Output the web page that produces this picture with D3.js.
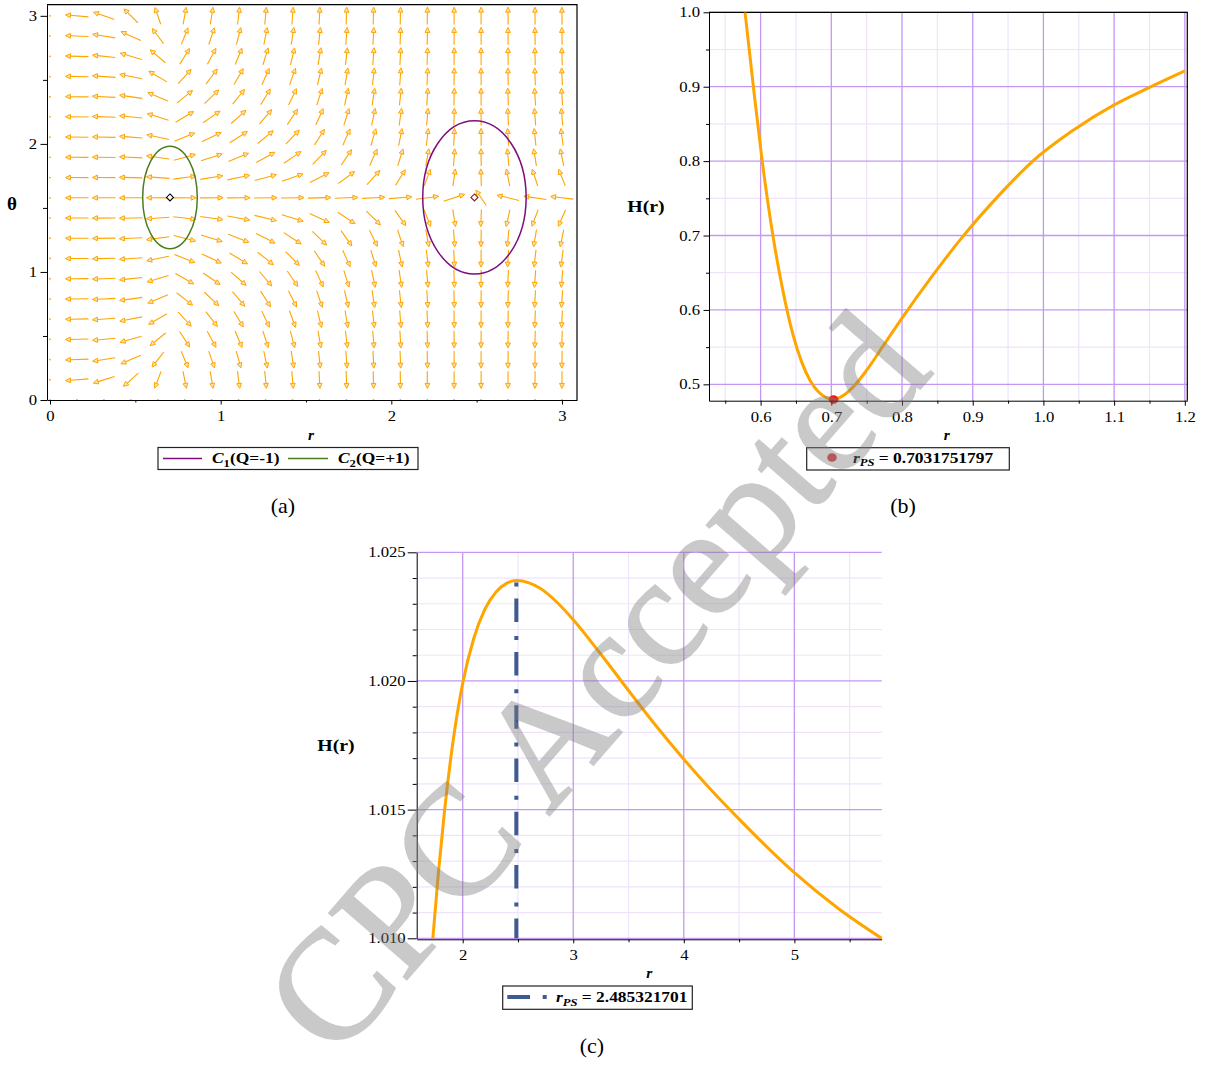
<!DOCTYPE html>
<html>
<head>
<meta charset="utf-8">
<script src="https://cdn.jsdelivr.net/npm/d3@7"></script>
<style>
  body { margin: 0; background: #fff; }
  svg text { font-family: "Liberation Serif", "Times New Roman", serif; }
</style>
</head>
<body>
<svg id="fig" width="1206" height="1066"></svg>
<script>
// ---------- (a) vector field ----------
// grid of the field plot (20 x 20 points)
const fieldR     = [0, 0.158, 0.316, 0.474, 0.632, 0.789, 0.947, 1.105, 1.263, 1.421, 1.579, 1.737, 1.895, 2.053, 2.211, 2.368, 2.526, 2.684, 2.842, 3.0];
const fieldTheta = [0, 0.158, 0.316, 0.474, 0.632, 0.789, 0.947, 1.105, 1.263, 1.421, 1.579, 1.737, 1.895, 2.053, 2.211, 2.368, 2.526, 2.684, 2.842, 3.0];
// radial weight per column and angular weight per row (null = no arrow, only a dot)
const radialWeight  = [null, -60, -15, -5.3, -1.8, 0.95, 0.8, 0.62, 0.47, 0.37, 0.25, 0.17, 0.115, 0.08, 0.045, 0.018, -0.004, -0.025, -0.042, -0.05];
const angularWeight = [null, -6.28, -3.06, -1.95, -1.37, -0.99, -0.72, -0.50, -0.32, -0.15, 0.008, 0.17, 0.34, 0.52, 0.74, 1.02, 1.41, 2.04, 3.19, 7.02];
// zero points and the contours round them
const contourNames = ['C1', 'C2'];
const contourCharge = ['(Q=-1)', '(Q=+1)'];
const zeroR = [2.487, 0.703];
const zeroTheta = [1.582, 1.582];
const contourRx = [0.303, 0.16];
const contourRy = [0.598, 0.40];
const aTicks = [0, 1, 2, 3];
const aMinor = [0.5, 1.5, 2.5];

// ---------- (b) H(r), minimum ----------
const bR = [0.578, 0.590, 0.602, 0.618, 0.632, 0.645, 0.658, 0.670, 0.682, 0.693, 0.703, 0.715, 0.730, 0.750, 0.775, 0.800, 0.840, 0.885, 0.940, 0.985, 1.040, 1.100, 1.150, 1.200];
const bH = [1.000, 0.898, 0.802, 0.6964, 0.6236, 0.5695, 0.5302, 0.5052, 0.4896, 0.4821, 0.4795, 0.4838, 0.4955, 0.519, 0.554, 0.589, 0.642, 0.6975, 0.757, 0.800, 0.840, 0.8755, 0.899, 0.9212];
const bRps = 0.7031751797;
const bHps = 0.4795;
const bTicksX = [0.6, 0.7, 0.8, 0.9, 1.0, 1.1, 1.2];
const bMinorX = [0.55, 0.65, 0.75, 0.85, 0.95, 1.05, 1.15];
const bTicksY = [0.5, 0.6, 0.7, 0.8, 0.9, 1.0];
const bMinorY = [0.55, 0.65, 0.75, 0.85, 0.95];

// ---------- (c) H(r), maximum ----------
const cR = [1.730, 1.780, 1.835, 1.900, 2.000, 2.100, 2.200, 2.300, 2.400, 2.485, 2.600, 2.700, 2.850, 3.000, 3.250, 3.500, 3.750, 4.000, 4.250, 4.500, 5.000, 5.400, 5.790];
const cH = [1.0100, 1.01253, 1.01492, 1.01726, 1.01991, 1.02165, 1.02278, 1.02345, 1.02380, 1.02390, 1.02381, 1.02360, 1.02307, 1.02238, 1.02104, 1.01963, 1.01825, 1.01696, 1.01575, 1.01463, 1.01255, 1.01115, 1.0100];
const cRps = 2.485321701;
const cHps = 1.0239;
const cTicksX = [2, 3, 4, 5];
const cMinorX = [2.5, 3.5, 4.5, 5.5];
const cTicksY = [1.010, 1.015, 1.020, 1.025];
const cMinorY = [1.011, 1.012, 1.013, 1.014, 1.016, 1.017, 1.018, 1.019, 1.021, 1.022, 1.023, 1.024];

const ORANGE = '#ffa500';
const GRID = '#c497f2';
const GRID_MINOR = '#efe3fb';

const svg = d3.select('#fig');

// the exported fonts are a bit wider than Times, stretch texts sideways
function widen(sel, k) {
  sel.each(function () {
    const w = this.getComputedTextLength();
    if (w > 0) d3.select(this).attr('textLength', w * k).attr('lengthAdjust', 'spacingAndGlyphs');
  });
}

function styleAxis(g) {
  g.attr('font-size', 14.5);
  g.selectAll('text').attr('fill', '#000');
  g.selectAll('line').attr('stroke', '#000');
  g.select('.domain').attr('stroke', '#000');
  widen(g.selectAll('text'), 1.15);
}

function minorTicks(g, axis) {
  g.call(axis.tickFormat('')).call(s => s.select('.domain').remove());
  g.selectAll('line').attr('stroke', '#000');
}

function legendLabel(g, x, y, name, sub, rest) {
  const t = g.append('text').attr('x', x).attr('y', y)
    .attr('font-size', 14.5).attr('font-weight', 'bold');
  t.append('tspan').attr('font-style', 'italic').text(name);
  t.append('tspan').attr('font-style', sub === 'PS' ? 'italic' : 'normal')
    .attr('font-size', 10.5).attr('dy', 3.5).text(sub);
  t.append('tspan').attr('dy', -3.5).text(rest);
  widen(t, 1.2);
  return t;
}

function grid(g, xs, ys, xv, yv, color, w) {
  xv.forEach(v => g.append('line').attr('x1', xs(v)).attr('x2', xs(v))
    .attr('y1', ys.range()[0]).attr('y2', ys.range()[1]).attr('stroke', color).attr('stroke-width', w));
  yv.forEach(v => g.append('line').attr('y1', ys(v)).attr('y2', ys(v))
    .attr('x1', xs.range()[0]).attr('x2', xs.range()[1]).attr('stroke', color).attr('stroke-width', w));
}

// =========================== (a) ===========================
const xA = d3.scaleLinear().domain([-0.0176, 3.088]).range([47, 577]);
const yA = d3.scaleLinear().domain([0, 3.087]).range([400, 4.7]);
const gA = svg.append('g');

gA.append('path').attr('d', 'M47,4.7H577V400')
  .attr('fill', 'none').attr('stroke', '#000').attr('stroke-width', 1.2);

const arrowLen = 0.135;
const field = [];
fieldR.forEach((r, i) => fieldTheta.forEach((t, j) => {
  field.push({ r, t, a: radialWeight[i], b: angularWeight[j] });
}));

const arrowG = gA.append('g');
field.forEach(d => {
  if (d.a === null || d.b === null) {
    arrowG.append('circle').attr('cx', xA(d.r)).attr('cy', yA(d.t)).attr('r', 0.9).attr('fill', ORANGE);
    return;
  }
  const n = Math.hypot(d.a, d.b);
  const dr = d.a / n * arrowLen / 2, dt = d.b / n * arrowLen / 2;
  const x1 = xA(d.r - dr), y1 = yA(d.t - dt), x2 = xA(d.r + dr), y2 = yA(d.t + dt);
  const L = Math.hypot(x2 - x1, y2 - y1);
  const ux = (x2 - x1) / L, uy = (y2 - y1) / L;
  const bx = x2 - 5 * ux, by = y2 - 5 * uy;
  arrowG.append('line').attr('x1', x1).attr('y1', y1).attr('x2', bx).attr('y2', by)
    .attr('stroke', ORANGE).attr('stroke-width', 1.1);
  arrowG.append('path')
    .attr('d', `M${x2},${y2}L${bx - 2.4 * uy},${by + 2.4 * ux}L${bx + 2.4 * uy},${by - 2.4 * ux}Z`)
    .attr('fill', '#ffe2a8').attr('stroke', ORANGE).attr('stroke-width', 1);
});

const contourColors = ['#7d0f7d', '#4c7e1c'];
const markerColors = ['#8b1a1a', '#000'];
zeroR.forEach((r, i) => {
  gA.append('ellipse')
    .attr('cx', xA(r)).attr('cy', yA(zeroTheta[i]))
    .attr('rx', xA(r + contourRx[i]) - xA(r))
    .attr('ry', yA(zeroTheta[i]) - yA(zeroTheta[i] + contourRy[i]))
    .attr('fill', 'none').attr('stroke', contourColors[i]).attr('stroke-width', 1.5);
  const cx = xA(r), cy = yA(zeroTheta[i]);
  gA.append('path').attr('d', `M${cx},${cy - 3.5}L${cx + 3.5},${cy}L${cx},${cy + 3.5}L${cx - 3.5},${cy}Z`)
    .attr('fill', '#fff').attr('stroke', markerColors[i]).attr('stroke-width', 1.1);
});

gA.append('g').attr('transform', 'translate(0,400)')
  .call(d3.axisBottom(xA).tickValues(aTicks).tickSize(4.5).tickPadding(6.5).tickSizeOuter(0).tickFormat(d3.format('d')))
  .call(styleAxis);
gA.append('g').attr('transform', 'translate(0,400)')
  .call(g => minorTicks(g, d3.axisBottom(xA).tickValues(aMinor).tickSize(2.5)));
gA.append('g').attr('transform', 'translate(47,0)')
  .call(d3.axisLeft(yA).tickValues(aTicks).tickSize(6.5).tickPadding(3.5).tickSizeOuter(0).tickFormat(d3.format('d')))
  .call(styleAxis);
gA.append('g').attr('transform', 'translate(47,0)')
  .call(g => minorTicks(g, d3.axisLeft(yA).tickValues(aMinor).tickSize(4)));

gA.append('text').attr('x', 311).attr('y', 440).attr('text-anchor', 'middle')
  .attr('font-size', 15.5).attr('font-weight', 'bold').attr('font-style', 'italic').text('r');
gA.append('text').attr('x', 12).attr('y', 210).attr('text-anchor', 'middle')
  .attr('font-size', 19).attr('font-weight', 'bold').text('θ');

const legA = gA.append('g');
legA.append('rect').attr('x', 158).attr('y', 447.5).attr('width', 260).attr('height', 22)
  .attr('fill', '#fff').attr('stroke', '#222').attr('stroke-width', 1.2);
const legAx = [[163, 202, 212], [288, 328, 338]];
contourNames.forEach((nm, i) => {
  legA.append('line').attr('x1', legAx[i][0]).attr('x2', legAx[i][1]).attr('y1', 458.5).attr('y2', 458.5)
    .attr('stroke', contourColors[i]).attr('stroke-width', 1.5);
  legendLabel(legA, legAx[i][2], 463, nm[0], nm.slice(1), contourCharge[i]);
});

svg.append('text').attr('x', 283).attr('y', 513).attr('text-anchor', 'middle')
  .attr('font-size', 22).text('(a)');

// =========================== (b) ===========================
const xB = d3.scaleLinear().domain([0.527, 1.2035]).range([709, 1187.3]);
const yB = d3.scaleLinear().domain([0.478, 1.0]).range([400.7, 12.3]);
const gB = svg.append('g');

grid(gB, xB, yB, bMinorX, bMinorY, GRID_MINOR, 1.2);
grid(gB, xB, yB, bTicksX, bTicksY, GRID, 1.3);

gB.append('path').attr('d', `M709,12.3H1187.3V400.7`)
  .attr('fill', 'none').attr('stroke', '#000').attr('stroke-width', 1.2);

gB.append('clipPath').attr('id', 'clipB').append('rect')
  .attr('x', 709).attr('y', 12.3).attr('width', 478.3).attr('height', 388.4);
const lineB = d3.line().x((d, i) => xB(bR[i])).y(d => yB(d)).curve(d3.curveMonotoneX);
gB.append('path').attr('d', lineB(bH)).attr('clip-path', 'url(#clipB)')
  .attr('fill', 'none').attr('stroke', ORANGE).attr('stroke-width', 3);
gB.append('ellipse').attr('cx', xB(bRps)).attr('cy', yB(bHps)).attr('rx', 4.8).attr('ry', 4.3).attr('fill', '#f01a14');

gB.append('g').attr('transform', 'translate(0,400.7)')
  .call(d3.axisBottom(xB).tickValues(bTicksX).tickSize(5).tickPadding(6).tickSizeOuter(0).tickFormat(d3.format('.1f')))
  .call(styleAxis);
gB.append('g').attr('transform', 'translate(0,400.7)')
  .call(g => minorTicks(g, d3.axisBottom(xB).tickValues(bMinorX).tickSize(3)));
gB.append('g').attr('transform', 'translate(709,0)')
  .call(d3.axisLeft(yB).tickValues(bTicksY).tickSize(5.5).tickPadding(3.5).tickSizeOuter(0).tickFormat(d3.format('.1f')))
  .call(styleAxis);
gB.append('g').attr('transform', 'translate(709,0)')
  .call(g => minorTicks(g, d3.axisLeft(yB).tickValues(bMinorY).tickSize(3)));

const hB = gB.append('text').attr('x', 646).attr('y', 212).attr('text-anchor', 'middle')
  .attr('font-size', 16.5).attr('font-weight', 'bold').text('H(r)');
widen(hB, 1.2);
gB.append('text').attr('x', 946.7).attr('y', 440).attr('text-anchor', 'middle')
  .attr('font-size', 15.5).attr('font-weight', 'bold').attr('font-style', 'italic').text('r');

const legB = gB.append('g');
legB.append('rect').attr('x', 806.7).attr('y', 447.7).attr('width', 202.6).attr('height', 22.3)
  .attr('fill', '#fff').attr('stroke', '#222').attr('stroke-width', 1.2);
legB.append('ellipse').attr('cx', 832).attr('cy', 457.5).attr('rx', 4.8).attr('ry', 4.3).attr('fill', '#e03a3a');
legendLabel(legB, 853, 462.5, 'r', 'PS', ' = ' + bRps);

svg.append('text').attr('x', 903).attr('y', 513).attr('text-anchor', 'middle')
  .attr('font-size', 22).text('(b)');

// =========================== (c) ===========================
const xC = d3.scaleLinear().domain([1.584, 5.79]).range([416.7, 881.7]);
const yC = d3.scaleLinear().domain([1.010, 1.025]).range([938.3, 552.3]);
const gC = svg.append('g');

grid(gC, xC, yC, cMinorX, cMinorY, GRID_MINOR, 1.2);
grid(gC, xC, yC, cTicksX, cTicksY, GRID, 1.3);

const lineC = d3.line().x((d, i) => xC(cR[i])).y(d => yC(d)).curve(d3.curveMonotoneX);
gC.append('path').attr('d', lineC(cH))
  .attr('fill', 'none').attr('stroke', ORANGE).attr('stroke-width', 3);

const PS_BLUE = '#3f5a8c';
gC.append('line').attr('x1', xC(cRps)).attr('x2', xC(cRps))
  .attr('y1', yC(cHps) + 2).attr('y2', yC(1.010))
  .attr('stroke', PS_BLUE).attr('stroke-width', 4).attr('stroke-dasharray', '4,12,23.5,13.8');

gC.append('g').attr('transform', 'translate(0,939.3)')
  .call(d3.axisBottom(xC).tickValues(cTicksX).tickSize(4).tickPadding(6).tickSizeOuter(0).tickFormat(d3.format('d')))
  .call(styleAxis);
gC.append('g').attr('transform', 'translate(0,939.3)')
  .call(g => minorTicks(g, d3.axisBottom(xC).tickValues(cMinorX).tickSize(3)));
gC.append('g').attr('transform', 'translate(416.7,0)')
  .call(d3.axisLeft(yC).tickValues(cTicksY).tickSize(9).tickPadding(2).tickSizeOuter(0).tickFormat(d3.format('.3f')))
  .call(styleAxis);
gC.append('g').attr('transform', 'translate(416.7,0)')
  .call(g => minorTicks(g, d3.axisLeft(yC).tickValues(cMinorY).tickSize(4)));

const hC = gC.append('text').attr('x', 336).attr('y', 751).attr('text-anchor', 'middle')
  .attr('font-size', 16.5).attr('font-weight', 'bold').text('H(r)');
widen(hC, 1.2);
gC.append('text').attr('x', 649.3).attr('y', 978).attr('text-anchor', 'middle')
  .attr('font-size', 15.5).attr('font-weight', 'bold').attr('font-style', 'italic').text('r');

const legC = gC.append('g');
legC.append('rect').attr('x', 502.7).attr('y', 986).attr('width', 189.6).attr('height', 23.3)
  .attr('fill', '#fff').attr('stroke', '#222').attr('stroke-width', 1.2);
legC.append('line').attr('x1', 507.3).attr('x2', 547).attr('y1', 997).attr('y2', 997)
  .attr('stroke', PS_BLUE).attr('stroke-width', 4).attr('stroke-dasharray', '22.7,12.7,4,20');
legendLabel(legC, 556, 1002, 'r', 'PS', ' = ' + cRps);

svg.append('text').attr('x', 592).attr('y', 1053).attr('text-anchor', 'middle')
  .attr('font-size', 22).text('(c)');

// =========================== watermark ===========================
svg.append('g').attr('opacity', 0.42)
  .append('text').attr('transform', 'translate(335,1062) rotate(-49)')
  .attr('font-size', 156).attr('fill', '#808080')
  .attr('stroke', '#808080').attr('stroke-width', 2)
  .text('CPC Accepted');
</script>
</body>
</html>
